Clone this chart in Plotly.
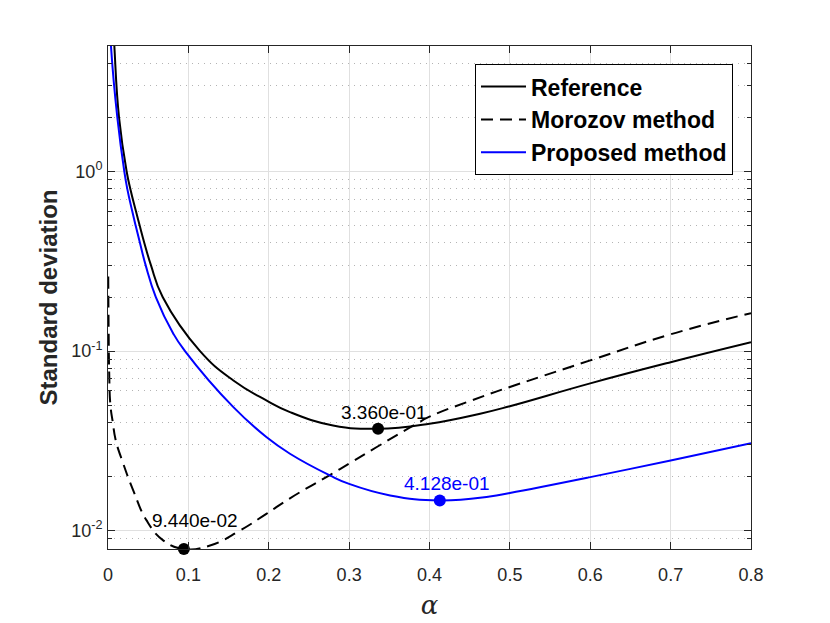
import numpy as np
import plotly.graph_objects as go

# ---- data ----
ref_x = [0.006, 0.0079, 0.0137, 0.0232, 0.0278, 0.0348, 0.0394, 0.0452, 0.0535, 0.068,
         0.1145, 0.156, 0.197, 0.2264, 0.280, 0.336, 0.400,
         0.463, 0.500, 0.600, 0.700, 0.800]
ref_y = [7.5, 5.0, 2.0, 1.0, 0.8, 0.6, 0.5, 0.4, 0.3, 0.2,
         0.1, 0.0686, 0.0531, 0.0457, 0.0385, 0.0369, 0.0394,
         0.0448, 0.0493, 0.0661, 0.0867, 0.112]

mor_x = [0.0003, 0.0008, 0.0015, 0.003, 0.006, 0.0095, 0.019, 0.0315, 0.048, 0.069,
         0.0944, 0.127, 0.164, 0.197, 0.2264, 0.276, 0.300, 0.336, 0.384, 0.400,
         0.471, 0.500, 0.600, 0.700, 0.800]
mor_y = [0.26, 0.13, 0.075, 0.050, 0.040, 0.032, 0.0236, 0.0167, 0.0114, 0.0088,
         0.0079, 0.00826, 0.0100, 0.0124, 0.01514, 0.0204, 0.0236, 0.0295, 0.0394, 0.0431,
         0.0569, 0.0631, 0.0887, 0.124, 0.1626]

pro_x = [0.002, 0.0037, 0.0116, 0.0203, 0.0240, 0.0302, 0.0344, 0.0398, 0.0469, 0.0595,
         0.0813, 0.0958, 0.156, 0.197, 0.2264, 0.276, 0.300, 0.351, 0.4128, 0.475,
         0.500, 0.600, 0.700, 0.800]
pro_y = [7.5, 5.0, 2.0, 1.0, 0.8, 0.6, 0.5, 0.4, 0.3, 0.2,
         0.125, 0.1, 0.0487, 0.0332, 0.0268, 0.0203, 0.0182, 0.0157, 0.01473, 0.0155,
         0.0162, 0.01986, 0.0246, 0.0307]

opt_x = [0.336, 0.0944, 0.4128]
opt_y = [0.0369, 0.0079, 0.01473]
opt_labels = ["3.360e-01", "9.440e-02", "4.128e-01"]
opt_colors = ["#000000", "#000000", "#0000ff"]

x_ticks = [0, 0.1, 0.2, 0.3, 0.4, 0.5, 0.6, 0.7, 0.8]
y_ticks = [0.01, 0.1, 1]
y_ticktext = ["10<sup>-2</sup>", "10<sup>-1</sup>", "10<sup>0</sup>"]
y_minor = [m * 10.0 ** e for e in (-3, -2, -1, 0) for m in range(2, 10)]

series_names = ["Reference", "Morozov method", "Proposed method"]

# label placement (pixels) - styling only
label_xshift = [6, 11, 7]
label_yshift = [4, 16, 4]

SMOOTH = 1.3

fig = go.Figure()
fig.add_trace(go.Scatter(x=ref_x, y=ref_y, mode="lines", name=f"<b>{series_names[0]}</b>",
                         line=dict(color="#000000", width=2, shape="spline", smoothing=SMOOTH)))
fig.add_trace(go.Scatter(x=mor_x, y=mor_y, mode="lines", name=f"<b>{series_names[1]}</b>",
                         line=dict(color="#000000", width=2, dash="12px,7px",
                                   shape="spline", smoothing=SMOOTH)))
fig.add_trace(go.Scatter(x=pro_x, y=pro_y, mode="lines", name=f"<b>{series_names[2]}</b>",
                         line=dict(color="#0000ff", width=2, shape="spline", smoothing=SMOOTH)))

fig.add_trace(go.Scatter(x=opt_x, y=opt_y, mode="markers", showlegend=False,
                         cliponaxis=False,
                         marker=dict(size=12, color=opt_colors)))

for xv, yv, lab, col, dx, dy in zip(opt_x, opt_y, opt_labels, opt_colors,
                                    label_xshift, label_yshift):
    fig.add_annotation(x=xv, y=np.log10(yv), text=lab, showarrow=False,
                       xanchor="center", yanchor="bottom", xshift=dx, yshift=dy,
                       font=dict(family="Liberation Sans, Arial", size=19, color=col))

axis_common = dict(
    showline=True, linecolor="#262626", linewidth=1, mirror="ticks",
    ticks="inside", ticklen=7, tickcolor="#262626",
    gridcolor="#e0e0e0", gridwidth=1, zeroline=False,
    tickfont=dict(family="Liberation Sans, Arial", size=18, color="#262626"),
)

fig.update_xaxes(range=[0, 0.8], tickvals=x_ticks, ticktext=[f"{v:g}" for v in x_ticks],
                 title=dict(text="<i>α</i>",
                            font=dict(family="DejaVu Serif", size=26, color="#262626"),
                            standoff=12),
                 ticklabelstandoff=9,
                 **axis_common)
fig.update_yaxes(type="log", range=[np.log10(0.0079), np.log10(5.0)],
                 tickvals=y_ticks, ticktext=y_ticktext,
                 minor=dict(tickvals=y_minor, showgrid=True, gridcolor="#b4b4b4",
                            griddash="1px,5px", ticks="inside", ticklen=4,
                            tickcolor="#262626"),
                 title=dict(text="<b>Standard deviation</b>",
                            font=dict(family="Liberation Sans, Arial", size=24, color="#262626"),
                            standoff=6),
                 ticklabelstandoff=1,
                 **axis_common)

fig.update_layout(
    width=830, height=623,
    margin=dict(l=108, r=79, t=46, b=74, autoexpand=False),
    plot_bgcolor="white", paper_bgcolor="white",
    legend=dict(x=0.972, y=0.964, xanchor="right", yanchor="top",
                bgcolor="white", bordercolor="#000000", borderwidth=1,
                font=dict(family="Liberation Sans, Arial", size=23, color="#000000"),
                itemwidth=45, tracegroupgap=0),
    showlegend=True,
)

fig.write_html("out.html", config={"displayModeBar": False},
               post_script="document.body.style.margin='0px';")
